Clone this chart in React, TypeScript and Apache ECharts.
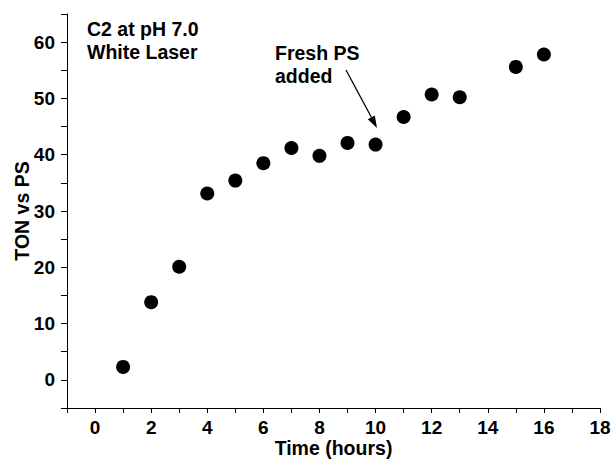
import React, { useEffect, useRef } from "react";
import * as echarts from "echarts";

const hours = [1, 2, 3, 4, 5, 6, 7, 8, 9, 10, 11, 12, 13, 15, 16];
const ton = [2.3, 13.8, 20.1, 33.1, 35.4, 38.5, 41.2, 39.8, 42.1, 41.8, 46.7, 50.7, 50.2, 55.6, 57.8];
const xTitle = "Time (hours)";
const yTitle = "TON vs PS";
const noteLeft = "C2 at pH 7.0\nWhite Laser";
const noteArrow = "Fresh PS\nadded";

const FONT = '"Liberation Sans", Arial, sans-serif';

export default function App() {
  const ref = useRef<HTMLDivElement>(null);
  useEffect(() => {
    document.body.style.margin = "0";
    const chart = echarts.init(ref.current!, null, { renderer: "svg" });
    const axisLine = { show: true, onZero: false, lineStyle: { color: "#000", width: 1 } };
    const nameTextStyle = { color: "#000", fontFamily: FONT, fontWeight: "bold", fontSize: 19.5 };
    chart.setOption({
      animation: false,
      backgroundColor: "#fff",
      grid: { left: 67, right: 11, top: 14, bottom: 53, containLabel: false, outerBoundsMode: "none" },
      xAxis: {
        type: "value",
        min: -1,
        max: 18,
        interval: 1,
        name: xTitle,
        nameLocation: "middle",
        nameGap: 30,
        nameMoveOverlap: false,
        nameTextStyle,
        axisLine,
        splitLine: { show: false },
        axisTick: { show: true, inside: false, length: 5, lineStyle: { color: "#000", width: 1 } },
        axisLabel: {
          color: "#000",
          fontFamily: FONT,
          fontWeight: "bold",
          fontSize: 19,
          margin: 10,
          showMinLabel: true,
          showMaxLabel: true,
          formatter: (v: number) => (Math.round(v) % 2 === 0 ? String(Math.round(v)) : ""),
        },
      },
      yAxis: {
        type: "value",
        min: -5,
        max: 65,
        interval: 5,
        name: yTitle,
        nameLocation: "middle",
        nameGap: 35,
        nameMoveOverlap: false,
        nameTextStyle,
        axisLine,
        splitLine: { show: false },
        axisTick: { show: true, inside: false, length: 6, lineStyle: { color: "#000", width: 1 } },
        axisLabel: {
          color: "#000",
          fontFamily: FONT,
          fontWeight: "bold",
          fontSize: 19,
          margin: 12,
          formatter: (v: number) => (Math.round(v) % 10 === 0 ? String(Math.round(v)) : ""),
        },
      },
      series: [
        {
          type: "scatter",
          data: hours.map((h, i) => [h, ton[i]]),
          symbol: "circle",
          symbolSize: 14,
          itemStyle: { color: "#000", opacity: 1 },
        },
      ],
      graphic: [
        {
          type: "text",
          x: 87,
          y: 17,
          style: { text: noteLeft, font: `bold 19.5px ${FONT}`, fill: "#000", lineHeight: 23, verticalAlign: "top" },
        },
        {
          type: "text",
          x: 275,
          y: 41.5,
          style: { text: noteArrow, font: `bold 19.5px ${FONT}`, fill: "#000", lineHeight: 23, verticalAlign: "top" },
        },
        {
          type: "line",
          shape: { x1: 346, y1: 70, x2: 371.5, y2: 117.5 },
          style: { stroke: "#000", lineWidth: 1.3 },
        },
        {
          type: "polygon",
          shape: { points: [[377, 128], [367.8, 119.3], [374.8, 115.5]] },
          style: { fill: "#000" },
        },
      ],
    });
    return () => chart.dispose();
  }, []);
  return <div ref={ref} style={{ width: 611, height: 461, position: "absolute", left: 0, top: 0 }} />;
}
